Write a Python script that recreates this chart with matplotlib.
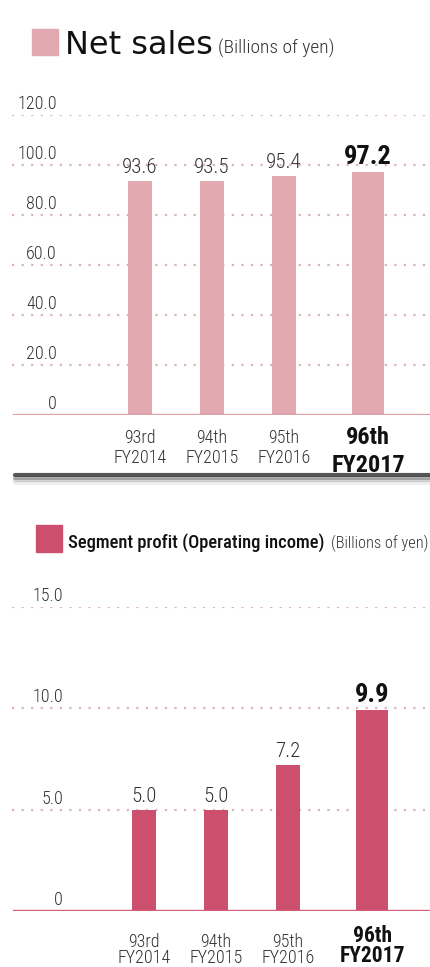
import matplotlib
matplotlib.use("Agg")
import matplotlib.pyplot as plt
import numpy as np
from matplotlib.patches import Rectangle
from matplotlib.lines import Line2D

# data
periods = ["93rd", "94th", "95th", "96th"]
years = ["FY2014", "FY2015", "FY2016", "FY2017"]
net_sales = [93.6, 93.5, 95.4, 97.2]
seg_profit = [5.0, 5.0, 7.2, 9.9]
sales_ticks = [0, 20, 40, 60, 80, 100, 120]
profit_ticks = [0, 5, 10, 15]

W, H = 431, 967
COND = "Roboto Condensed"
PINK = "#e2a9b1"
RED = "#cc4f6d"
GRID = "#dcb2bb"
TXT = "#333333"
PT = 72 / 100  # pixels -> points

fig = plt.figure(figsize=(W / 100, H / 100), dpi=100)


def px(x, y):
    return x / W, 1 - y / H


# last (current) year gets a bit more room and a wider bar
pos = np.arange(4) + np.array([0, 0, 0, 0.17])
widths = [0.32, 0.32, 0.32, 0.44]


def panel(bottom_px, top_px, x0_px, vals, ticks, ymax, color, base_color,
          tick_x, lab, hi_lab):
    ax = fig.add_axes([0, 1 - bottom_px / H, 1, (bottom_px - top_px) / H])
    ax.set_xlim(-x0_px / 72, (W - x0_px) / 72)
    ax.set_ylim(0, ymax)
    ax.axis("off")
    for t in ticks[1:]:
        ax.axhline(t, xmin=12 / W, xmax=1, color=GRID, lw=1.6,
                   ls=(0, (1, 3.3)), zorder=1)
    ax.bar(pos, vals, width=widths, color=color, zorder=2)
    ax.axhline(0, xmin=14 / W, xmax=1, color=base_color, lw=2.4, zorder=3)
    for t in ticks:
        s = "0" if t == 0 else "%.1f" % t
        ax.annotate(s, (tick_x / W, t), xycoords=("axes fraction", "data"),
                    xytext=(0, 6 * PT), textcoords="offset points",
                    ha="right", va="baseline", fontsize=13,
                    family=COND, weight=300, color=TXT)
    for i, v in enumerate(vals):
        last = i == len(vals) - 1
        ax.annotate("%.1f" % v, (pos[i], v), xytext=(0, 8 * PT),
                    textcoords="offset points", ha="center", va="baseline",
                    fontsize=19 if last else 15, family=COND,
                    weight=700 if last else 300,
                    color="#111111" if last else TXT)
        # off = distance (px) from the baseline to the second line's baseline
        off, fs, ls = hi_lab if last else lab
        ax.annotate(periods[i] + "\n" + years[i], (pos[i], 0),
                    xytext=(0, -off * PT), textcoords="offset points",
                    ha="center", va="baseline", multialignment="center",
                    fontsize=fs, linespacing=ls, family=COND,
                    weight=700 if last else 300,
                    color="#111111" if last else TXT)
    return ax


panel(415, 115, 140, net_sales, sales_ticks, 120, PINK, "#e0a0aa",
      57, (48, 13, 1.12), (57, 17.5, 1.28))
panel(911, 607, 144, seg_profit, profit_ticks, 15, RED, "#d2607a",
      63, (52, 13, 0.86), (51, 15.5, 0.86))

# titles
fig.add_artist(Rectangle(px(32, 55), 26 / W, 26 / H, color=PINK,
                         transform=fig.transFigure))
fig.text(*px(65, 54), "Net sales", fontsize=23, family="DejaVu Sans",
         color="#111111", va="baseline")
fig.text(*px(218, 54), "(Billions of yen)", fontsize=14, family=COND,
         weight=300, color=TXT, va="baseline")

fig.add_artist(Rectangle(px(36, 552), 26 / W, 27 / H, color=RED,
                         transform=fig.transFigure))
fig.text(*px(68, 548), "Segment profit (Operating income)", fontsize=13.3,
         family=COND, weight=500, color="#111111", va="baseline")
fig.text(*px(331, 548), "(Billions of yen)", fontsize=11.8, family=COND,
         weight=300, color=TXT, va="baseline")

# separator with soft shadow below the first panel
for k, a in enumerate([0.85, 0.35, 0.18, 0.08]):
    y = 1 - (475 + 2.5 * k) / H
    fig.add_artist(Line2D([15 / W, 1], [y, y], lw=3, color="#3a3a3a",
                          alpha=a, transform=fig.transFigure,
                          solid_capstyle="round"))

fig.savefig("out.png", dpi=100)
